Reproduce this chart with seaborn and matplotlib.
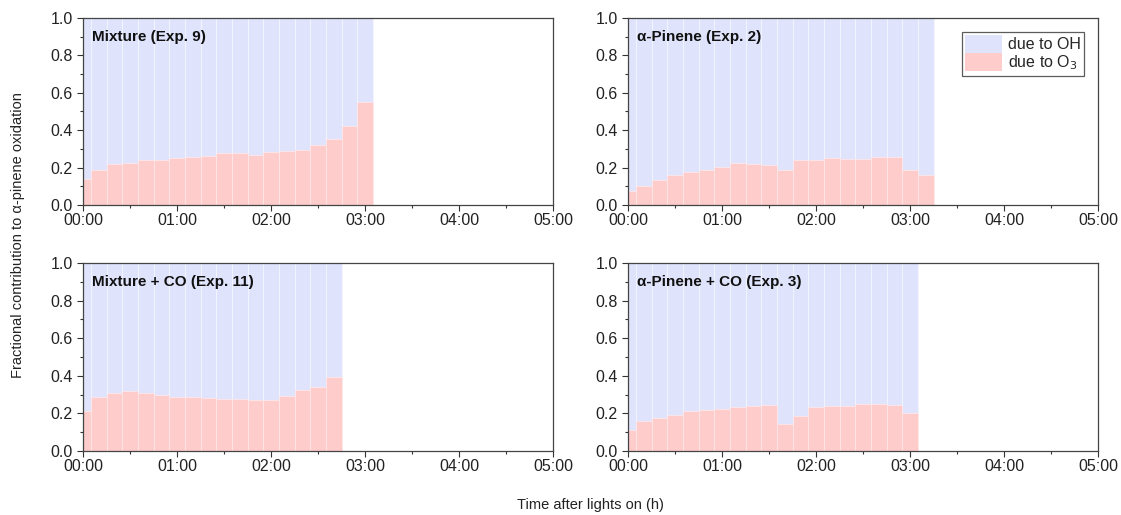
import numpy as np
import pandas as pd
import matplotlib.pyplot as plt
import matplotlib.ticker as mticker
from matplotlib.patches import Patch
import seaborn as sns

# fraction due to O3, one value per 10-min interval (centres at 0, 10, 20 ... min)
o3_mix9 = [0.137, 0.189, 0.220, 0.225, 0.238, 0.238, 0.250, 0.256, 0.261, 0.276,
           0.276, 0.270, 0.281, 0.288, 0.295, 0.322, 0.355, 0.420, 0.553]
o3_pin2 = [0.073, 0.104, 0.136, 0.158, 0.178, 0.189, 0.205, 0.224, 0.218, 0.213,
           0.189, 0.238, 0.242, 0.249, 0.245, 0.245, 0.256, 0.256, 0.185, 0.158]
o3_mix11 = [0.214, 0.288, 0.310, 0.317, 0.306, 0.297, 0.288, 0.285, 0.283, 0.279,
            0.276, 0.270, 0.270, 0.292, 0.323, 0.339, 0.393]
o3_pin3 = [0.114, 0.158, 0.176, 0.190, 0.211, 0.220, 0.222, 0.235, 0.242, 0.244,
           0.145, 0.185, 0.233, 0.240, 0.242, 0.250, 0.251, 0.244, 0.204]

titles = ['Mixture (Exp. 9)', 'α-Pinene (Exp. 2)',
          'Mixture + CO (Exp. 11)', 'α-Pinene + CO (Exp. 3)']
series = [o3_mix9, o3_pin2, o3_mix11, o3_pin3]

c_oh = '#dfe3fb'
c_o3 = '#ffcccc'

sns.set_style('ticks')
plt.rcParams['font.family'] = ['Liberation Sans', 'DejaVu Sans']

fig = plt.figure(figsize=(11.21, 5.15), dpi=100)
W, H = 1121, 515
boxes = [(83, 18, 553, 205), (628, 18, 1098, 205),
         (83, 263, 553, 451), (628, 263, 1098, 451)]

for (l, t, r, b), o3, title in zip(boxes, series, titles):
    ax = fig.add_axes([l / W, 1 - b / H, (r - l) / W, (b - t) / H])
    df = pd.DataFrame({'t': np.arange(len(o3)) * 10, 'o3': o3})
    df['oh'] = 1 - df['o3']
    df['total'] = df['o3'] + df['oh']
    sns.barplot(data=df, x='t', y='total', native_scale=True, width=1.0,
                color=c_oh, saturation=1, edgecolor='#f6f7fe', linewidth=0.5,
                errorbar=None, ax=ax)
    sns.barplot(data=df, x='t', y='o3', native_scale=True, width=1.0,
                color=c_o3, saturation=1, edgecolor='#ffeaea', linewidth=0.5,
                errorbar=None, ax=ax)
    ax.set_xlim(0, 300)
    ax.set_ylim(0, 1.0)
    ax.xaxis.set_major_locator(mticker.MultipleLocator(60))
    ax.xaxis.set_minor_locator(mticker.MultipleLocator(30))
    ax.xaxis.set_major_formatter(mticker.FuncFormatter(lambda v, p: '%02d:00' % int(round(v / 60))))
    ax.yaxis.set_major_locator(mticker.MultipleLocator(0.2))
    ax.yaxis.set_minor_locator(mticker.MultipleLocator(0.1))
    ax.yaxis.set_major_formatter(mticker.FormatStrFormatter('%.1f'))
    ax.tick_params(which='major', direction='out', length=4, width=0.8,
                   labelsize=11.5, colors='#333333', labelcolor='#222222')
    ax.tick_params(which='minor', direction='out', length=2.5, width=0.8, colors='#333333')
    ax.tick_params(axis='x', pad=2)
    for s in ax.spines.values():
        s.set_visible(True)
        s.set_color('#444444')
        s.set_linewidth(0.9)
    ax.set_xlabel('')
    ax.set_ylabel('')
    ax.text(0.02, 0.9, title, transform=ax.transAxes, fontsize=11,
            fontweight='bold', va='center', ha='left', color='#111111')
    if title.startswith('α-Pinene (Exp. 2)'):
        handles = [Patch(facecolor=c_oh, edgecolor='none', label='due to OH'),
                   Patch(facecolor=c_o3, edgecolor='none', label='due to O$_3$')]
        leg = ax.legend(handles=handles, loc='upper right', fontsize=11.5,
                        fancybox=False, frameon=True, borderaxespad=0.85,
                        handlelength=2.3, handleheight=1.35, handletextpad=0.4,
                        borderpad=0.2, labelspacing=0.05)
        leg.get_frame().set_edgecolor('#333333')
        leg.get_frame().set_linewidth(0.9)

fig.text(18 / W, 1 - 235 / H, 'Fractional contribution to α-pinene oxidation',
         rotation=90, va='center', ha='center', fontsize=10.5, color='#222222')
fig.text(590 / W, 1 - 505 / H, 'Time after lights on (h)',
         va='center', ha='center', fontsize=10.5, color='#222222')

fig.savefig('out.png', dpi=100)
